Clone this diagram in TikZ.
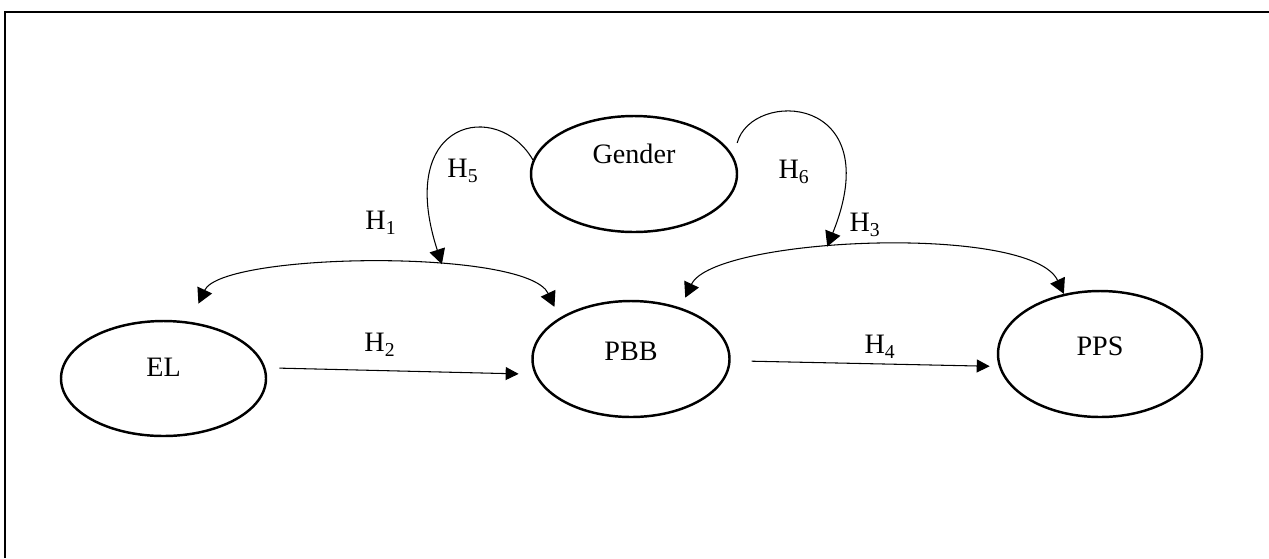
\documentclass[tikz,border=0pt]{standalone}
\usepackage{fontspec}
\setmainfont{Liberation Serif}
\usetikzlibrary{arrows.meta}
\usetikzlibrary{shapes.geometric}

\begin{document}
\begin{tikzpicture}[
    every node/.style = {font=\fontsize{16}{19}\selectfont},
    construct/.style = {ellipse,draw,line width=1.4pt,inner sep=0pt,
        text height=0.36cm,text depth=0.32cm},
    effect/.style = {line width=0.6pt,-{Triangle[width=0.26cm,length=0.26cm]}},
    link/.style = {line width=0.6pt,
        {Triangle[width=0.32cm,length=0.3cm]}-{Triangle[width=0.32cm,length=0.3cm]}},
    moder/.style = {line width=0.6pt,-{Triangle[width=0.32cm,length=0.3cm]}},
    ]
    \useasboundingbox (0,0) rectangle (25.38,-11.16);
    \draw[line width=1.6pt] (0.1,-11.16) -- (0.1,-0.24) -- (25.38,-0.24);

    \node[construct,minimum width=4.12cm,minimum height=2.32cm,text depth=0.8cm] (gender) at (12.68,-3.48) {Gender};
    \node[construct,minimum width=4.10cm,minimum height=2.30cm,text depth=0.45cm] (el) at (3.27,-7.57) {EL};
    \node[construct,minimum width=3.94cm,minimum height=2.32cm] (pbb) at (12.62,-7.18) {PBB};
    \node[construct,minimum width=4.08cm,minimum height=2.52cm] (pps) at (22.00,-7.08) {PPS};

    \draw[effect,shorten <=0.28cm,shorten >=0.32cm] (el.6) -- (pbb.189);
    \draw[effect,shorten <=0.42cm,shorten >=0.18cm] (pbb.-1) -- (pps.187);
    \draw[link,shorten <=0.4cm,shorten >=0.24cm] (el.65) to[out=65,in=115,looseness=0.53]
        coordinate[pos=0.64] (h1-mid) (pbb.150);
    \draw[link,shorten <=0.22cm] (pbb.46) to[out=65,in=115,looseness=0.52]
        coordinate[pos=0.41] (h3-mid) (pps.121);
    \draw[moder,shorten >=0.14cm] (gender.172) .. controls +(120:1.4) and +(108:3.2) .. (h1-mid);
    \draw[moder,shorten <=0.28cm,shorten >=0.1cm] (gender.10) .. controls +(75:1.4) and +(68:3.4) .. (h3-mid);

    \node (h1) at (7.62,-4.46) {H\textsubscript{1}};
    \node (h2) at (7.60,-6.90) {H\textsubscript{2}};
    \node (h3) at (17.30,-4.50) {H\textsubscript{3}};
    \node (h4) at (17.60,-6.94) {H\textsubscript{4}};
    \node (h5) at (9.26,-3.42) {H\textsubscript{5}};
    \node (h6) at (15.88,-3.44) {H\textsubscript{6}};
\end{tikzpicture}
\end{document}
